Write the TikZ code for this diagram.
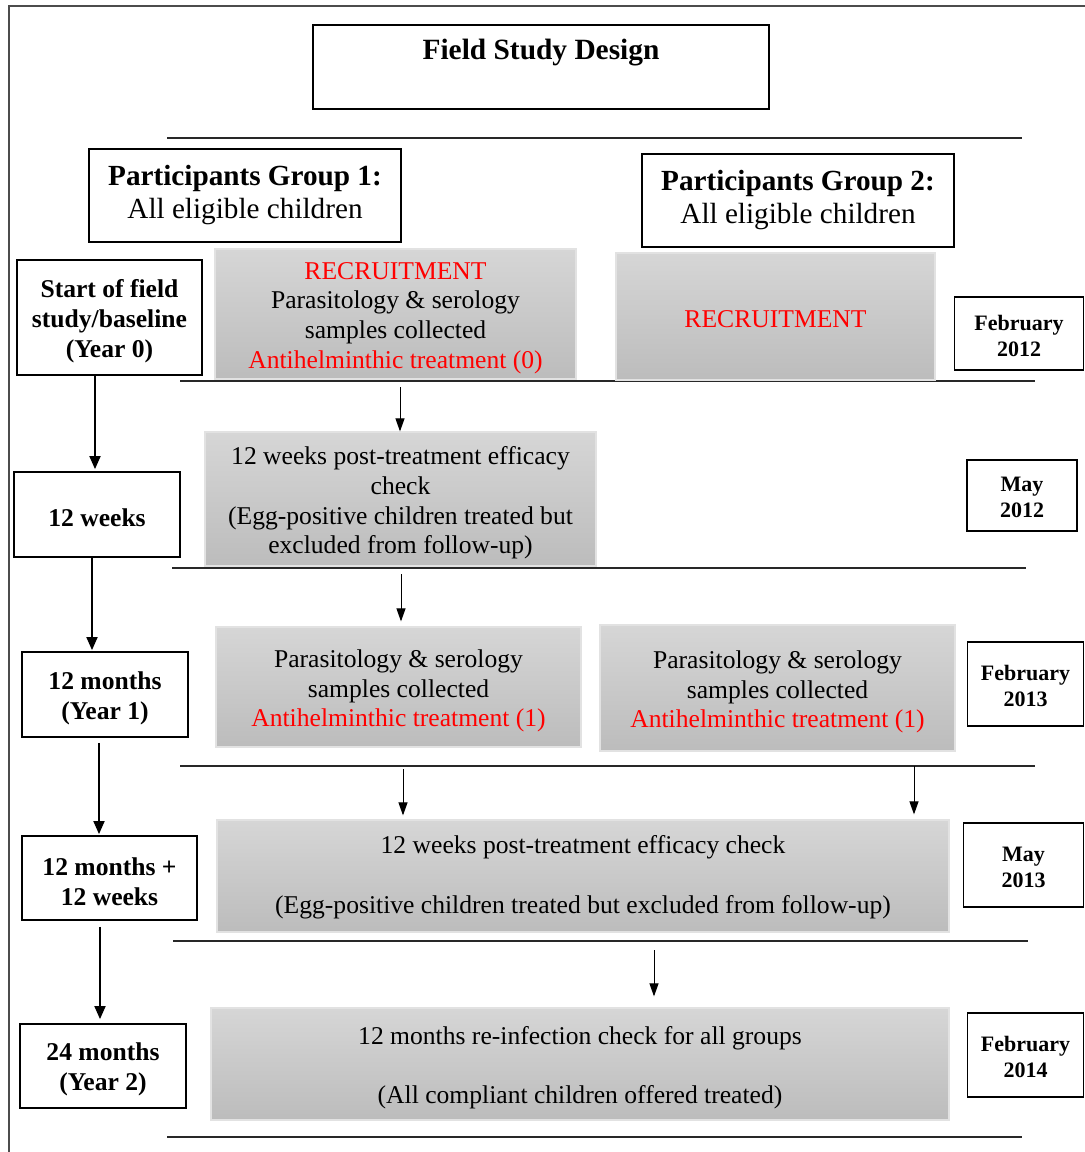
\documentclass[tikz,border=0pt]{standalone}
\usepackage{fontspec}
\setmainfont{Liberation Serif}
\usetikzlibrary{arrows.meta,positioning}
\definecolor{gtop}{RGB}{214,214,214}
\definecolor{gbot}{RGB}{188,188,188}
\definecolor{gedge}{RGB}{226,226,226}
\definecolor{rtxt}{RGB}{255,0,0}
\definecolor{sepc}{RGB}{40,40,40}
\begin{document}
\begin{tikzpicture}[x=1pt,y=-1pt,
  gbox/.style={shade,top color=gtop,bottom color=gbot,draw=gedge,line width=1.2pt,inner sep=0pt},
  gtext/.style={inner sep=0pt,align=center,font=\fontsize{25.6}{29.8}\selectfont},
  wbox/.style={draw=black,line width=1.8pt,fill=white,inner sep=0pt},
  wtext/.style={inner sep=0pt,align=center,font=\bfseries\fontsize{25.6}{30}\selectfont},
  grpbox/.style={draw=black,line width=1.8pt,inner sep=0pt,align=center,
    font=\fontsize{29.2}{33}\selectfont},
  datebox/.style={draw=black,line width=1.8pt,inner sep=0pt},
  dtext/.style={inner sep=0pt,align=center,font=\bfseries\fontsize{22}{26}\selectfont},
  sepline/.style={draw=sepc,line width=1.1pt},
  tarrow/.style={draw=black,line width=1.8pt,-{Triangle[length=13pt,width=11pt]}},
  carrow/.style={draw=black,line width=1pt,-{Triangle[length=13pt,width=9pt]}}
]
\useasboundingbox (0,0) rectangle (1085,1152);
% outer frame
\draw[line width=1.4pt,draw=black!70] (9,1152) -- (9,6) -- (1085,6);

% title
\node[draw=black,line width=1.8pt,minimum width=456pt,minimum height=84pt] (title) at (541,67) {};
\node[font=\bfseries\fontsize{29.4}{33}\selectfont,inner sep=0pt] (titletext) at (541,53) {Field Study Design};

% separators
\coordinate (s1a) at (167,138); \coordinate (s1b) at (1022,138);
\coordinate (s2a) at (180,381); \coordinate (s2b) at (1035,381);
\coordinate (s3a) at (172,568); \coordinate (s3b) at (1026,568);
\coordinate (s4a) at (180,766); \coordinate (s4b) at (1035,766);
\coordinate (s5a) at (173,941); \coordinate (s5b) at (1028,941);
\coordinate (s6a) at (167,1137); \coordinate (s6b) at (1022,1137);
\draw[sepline] (s1a) -- (s1b);
\draw[sepline] (s2a) -- (s2b);
\draw[sepline] (s3a) -- (s3b);
\draw[sepline] (s4a) -- (s4b);
\draw[sepline] (s5a) -- (s5b);
\draw[sepline] (s6a) -- (s6b);

% group boxes
\node[grpbox,minimum width=312pt,minimum height=93pt] (grp1) at (245,195.5)
  {\textbf{Participants Group 1:}\\All eligible children};
\node[grpbox,minimum width=312pt,minimum height=93pt] (grp2) at (798,200.5)
  {\textbf{Participants Group 2:}\\All eligible children};

% left timeline
\node[wbox,minimum width=185pt,minimum height=115pt] (t0) at (109.5,317.5) {};
\node[wtext] (t0t) at ([yshift=-3.5pt]t0.center) {Start of field\\study/baseline\\(Year 0)};
\node[wbox,minimum width=166pt,minimum height=85pt] (t1) at (97,514.5) {};
\node[wtext] (t1t) at ([yshift=-3pt]t1.center) {12 weeks};
\node[wbox,minimum width=166pt,minimum height=85pt] (t2) at (105,694.5) {};
\node[wtext] (t2t) at ([yshift=-3.5pt]t2.center) {12 months\\(Year 1)};
\node[wbox,minimum width=175pt,minimum height=84pt] (t3) at (109.5,878) {};
\node[wtext] (t3t) at ([yshift=-3.5pt]t3.center) {12 months +\\12 weeks};
\node[wbox,minimum width=166pt,minimum height=84pt] (t4) at (103,1066) {};
\node[wtext] (t4t) at ([yshift=-3.5pt]t4.center) {24 months\\(Year 2)};

% dates
\node[datebox,minimum width=129pt,minimum height=73pt] (d0) at (1019,333.5) {};
\node[dtext] (d0t) at ([yshift=-2pt]d0.center) {February\\2012};
\node[datebox,minimum width=110pt,minimum height=71pt] (d1) at (1022,495.5) {};
\node[dtext] (d1t) at ([yshift=-2pt]d1.center) {May\\2012};
\node[datebox,minimum width=116pt,minimum height=84pt] (d2) at (1025.5,684) {};
\node[dtext] (d2t) at ([yshift=-2pt]d2.center) {February\\2013};
\node[datebox,minimum width=120pt,minimum height=84pt] (d3) at (1023.5,865) {};
\node[dtext] (d3t) at ([yshift=-2pt]d3.center) {May\\2013};
\node[datebox,minimum width=116pt,minimum height=84pt] (d4) at (1025.5,1055) {};
\node[dtext] (d4t) at ([yshift=-2pt]d4.center) {February\\2014};

% gray boxes
\node[gbox,minimum width=361pt,minimum height=130pt] (g0a) at (395.5,314) {};
\node[gtext] (g0at) at ([yshift=-4pt]g0a.center)
  {\textcolor{rtxt}{RECRUITMENT}\\Parasitology \& serology\\samples collected\\\textcolor{rtxt}{Antihelminthic treatment (0)}};
\node[gbox,minimum width=319pt,minimum height=127pt] (g0b) at (775.5,316.5) {};
\node[gtext] (g0bt) at ([yshift=-2.5pt]g0b.center) {\textcolor{rtxt}{RECRUITMENT}};
\node[gbox,minimum width=391pt,minimum height=134pt] (g1) at (400.5,499) {};
\node[gtext] (g1t) at ([yshift=-4pt]g1.center)
  {12 weeks post-treatment efficacy\\check\\(Egg-positive children treated but\\excluded from follow-up)};
\node[gbox,minimum width=365pt,minimum height=120pt] (g2a) at (398.5,687) {};
\node[gtext] (g2at) at ([yshift=-4pt]g2a.center)
  {Parasitology \& serology\\samples collected\\\textcolor{rtxt}{Antihelminthic treatment (1)}};
\node[gbox,minimum width=355pt,minimum height=126pt] (g2b) at (777.5,688) {};
\node[gtext] (g2bt) at ([yshift=-4pt]g2b.center)
  {Parasitology \& serology\\samples collected\\\textcolor{rtxt}{Antihelminthic treatment (1)}};
\node[gbox,minimum width=732pt,minimum height=112pt] (g3) at (583,876) {};
\node[gtext] (g3t) at ([yshift=-1pt]g3.center)
  {12 weeks post-treatment efficacy check\\[29.8pt](Egg-positive children treated but excluded from follow-up)};
\node[gbox,minimum width=738pt,minimum height=112pt] (g4) at (580,1064) {};
\node[gtext] (g4t) at ([yshift=-3.5pt]g4.center)
  {12 months re-infection check for all groups\\[29.8pt](All compliant children offered treated)};

% left timeline arrows
\coordinate (xa) at (95,0); \coordinate (xb) at (92,0);
\coordinate (xc) at (99,0); \coordinate (xd) at (100,0);
\draw[tarrow] (t0.south -| xa) -- ([yshift=2pt]t1.north -| xa);
\draw[tarrow] (t1.south -| xb) -- ([yshift=1pt]t2.north -| xb);
\draw[tarrow] ([yshift=-5pt]t2.south -| xc) -- ([yshift=1pt]t3.north -| xc);
\draw[tarrow] ([yshift=-6pt]t3.south -| xd) -- ([yshift=4pt]t4.north -| xd);

% center arrows
\coordinate (c1) at (400,387); \coordinate (c2) at (401,574);
\coordinate (c3) at (403,769); \coordinate (c4) at (914,766);
\coordinate (c5) at (654,950);
\draw[carrow] (c1) -- (g1.north -| c1);
\draw[carrow] (c2) -- ([yshift=5pt]g2a.north -| c2);
\draw[carrow] (c3) -- ([yshift=4pt]g3.north -| c3);
\draw[carrow] (c4) -- ([yshift=5pt]g3.north -| c4);
\draw[carrow] (c5) -- ([yshift=11pt]g4.north -| c5);
\end{tikzpicture}
\end{document}
